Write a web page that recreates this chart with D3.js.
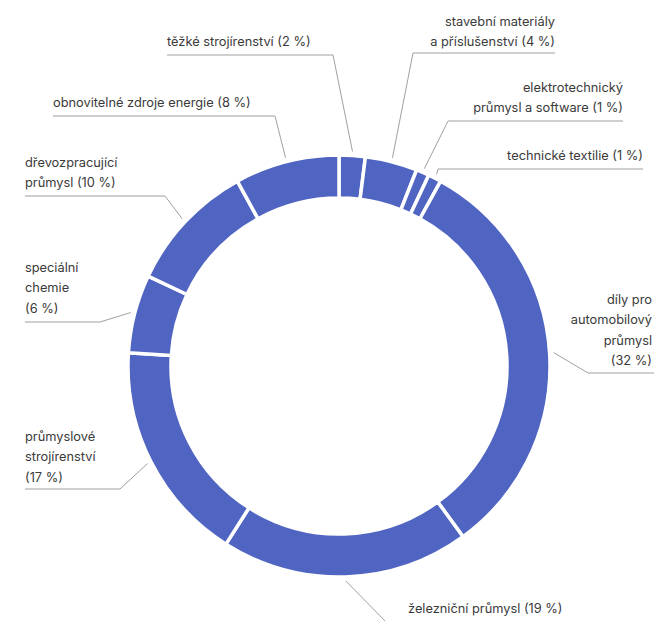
<!DOCTYPE html>
<html>
<head>
<meta charset="utf-8">
<script src="https://cdn.jsdelivr.net/npm/d3@7"></script>
<style>
  body { margin: 0; background: #fff; }
  text { font-family: Inter, "Open Sans", sans-serif; font-size: 12.8px; fill: #3a3a3a; }
</style>
</head>
<body>
<div id="chart"></div>
<script>
const width = 654;
const height = 621;

// sectors, clockwise from 12 o'clock
const sectors = [
  "těžké strojírenství",
  "stavební materiály a příslušenství",
  "elektrotechnický průmysl a software",
  "technické textilie",
  "díly pro automobilový průmysl",
  "železniční průmysl",
  "průmyslové strojírenství",
  "speciální chemie",
  "dřevozpracující průmysl",
  "obnovitelné zdroje energie"
];
const shares = [2, 4, 1, 1, 32, 19, 17, 6, 10, 8];
const labelLines = [
  ["těžké strojírenství (2 %)"],
  ["stavební materiály", "a příslušenství (4 %)"],
  ["elektrotechnický", "průmysl a software (1 %)"],
  ["technické textilie (1 %)"],
  ["díly pro", "automobilový", "průmysl", "(32 %)"],
  ["železniční průmysl (19 %)"],
  ["průmyslové", "strojírenství", "(17 %)"],
  ["speciální", "chemie", "(6 %)"],
  ["dřevozpracující", "průmysl (10 %)"],
  ["obnovitelné zdroje energie (8 %)"]
];

// label layout: text anchor/x/first baseline, elbow point, end of the underline
const layout = [
  { anchor: "start", tx: 167, ty: 46,  elbow: [333, 55],  lineEnd: 167 },
  { anchor: "end",   tx: 555, ty: 26,  elbow: [413, 53],  lineEnd: 555 },
  { anchor: "end",   tx: 623, ty: 92,  elbow: [448, 121], lineEnd: 623 },
  { anchor: "end",   tx: 643, ty: 160, elbow: [438, 169], lineEnd: 643 },
  { anchor: "end",   tx: 652, ty: 304, elbow: [588, 373], lineEnd: 660 },
  { anchor: "start", tx: 408, ty: 613, elbow: [390, 626], lineEnd: 570 },
  { anchor: "start", tx: 25,  ty: 441, elbow: [120, 489], lineEnd: 25 },
  { anchor: "start", tx: 25,  ty: 272, elbow: [100, 322], lineEnd: 25 },
  { anchor: "start", tx: 25,  ty: 167, elbow: [165, 196], lineEnd: 25 },
  { anchor: "start", tx: 53,  ty: 107, elbow: [275, 116], lineEnd: 53 }
];

const cx = 339, cy = 366;
const outerR = 211, innerR = 168;
const lineH = 20.3;

const svg = d3.select("#chart").append("svg")
    .attr("width", width)
    .attr("height", height);

const pie = d3.pie().sort(null).value(d => d)(shares);
const arc = d3.arc().innerRadius(innerR).outerRadius(outerR);
const tip = d3.arc().innerRadius(outerR + 4).outerRadius(outerR + 4);

const g = svg.append("g").attr("transform", `translate(${cx},${cy})`);

g.selectAll("path")
  .data(pie)
  .join("path")
  .attr("d", arc)
  .attr("fill", "#5065c1")
  .attr("stroke", "#fff")
  .attr("stroke-width", 3.5);

// leader lines
svg.append("g")
  .selectAll("polyline")
  .data(pie)
  .join("polyline")
  .attr("points", (d, i) => {
    const [x, y] = tip.centroid(d);
    const L = layout[i];
    return [[cx + x, cy + y], L.elbow, [L.lineEnd, L.elbow[1]]].join(" ");
  })
  .attr("fill", "none")
  .attr("stroke", "#a0a0a0")
  .attr("stroke-width", 1);

// labels
svg.append("g")
  .selectAll("text")
  .data(labelLines)
  .join("text")
  .attr("text-anchor", (d, i) => layout[i].anchor)
  .each(function (lines, i) {
    const L = layout[i];
    d3.select(this).selectAll("tspan")
      .data(lines)
      .join("tspan")
      .attr("x", L.tx)
      .attr("y", (s, j) => L.ty + j * lineH)
      .text(s => s);
  });
</script>
</body>
</html>
